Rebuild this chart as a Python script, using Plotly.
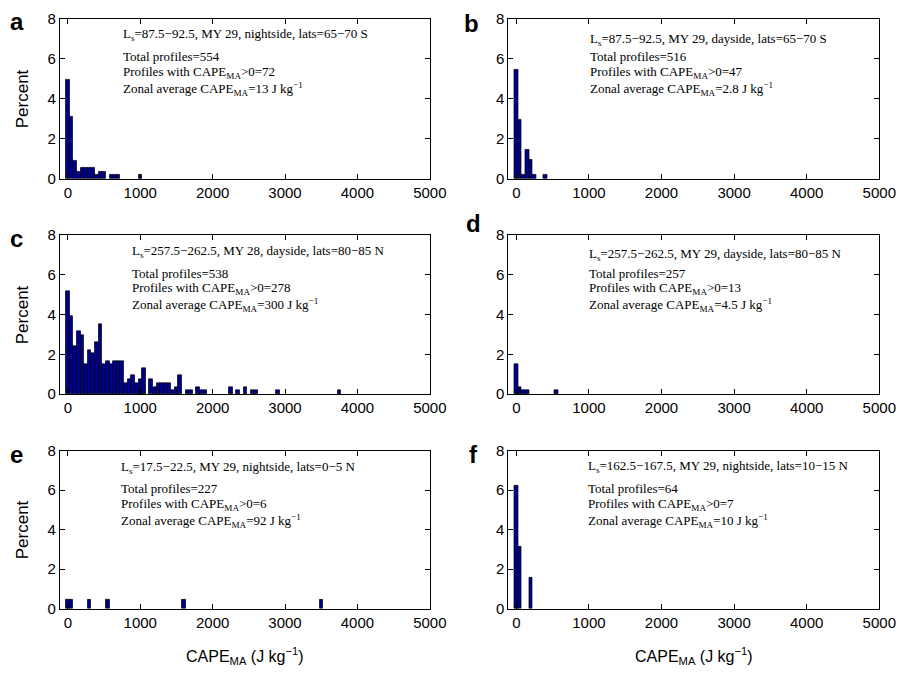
import plotly.graph_objects as go

# Histogram bins are 50 J/kg wide, each bar centred on its bin value
bin_width = 50
x_ticks = [0, 1000, 2000, 3000, 4000, 5000]
y_ticks = [0, 2, 4, 6, 8]
x_range = [-110, 5000]
y_range = [0, 8]

# (a) Ls=87.5-92.5, MY 29, nightside, 65-70 S
a_cape = [0, 50, 100, 150, 200, 250, 300, 350, 400, 450, 500, 600, 650, 700, 1000]
a_pct = [4.96, 3.12, 0.90, 0.36, 0.54, 0.54, 0.54, 0.54, 0.18, 0.36, 0.36, 0.18, 0.18, 0.18, 0.18]

# (b) Ls=87.5-92.5, MY 29, dayside, 65-70 S
b_cape = [0, 50, 100, 150, 200, 250, 400]
b_pct = [5.43, 2.93, 0.19, 1.45, 0.97, 0.19, 0.19]

# (c) Ls=257.5-262.5, MY 28, dayside, 80-85 N
c_cape = [0, 50, 100, 150, 200, 250, 300, 350, 400, 450, 500, 550, 600, 650, 700, 750,
          800, 850, 900, 950, 1000, 1050, 1150, 1200, 1250, 1300, 1350, 1400, 1450, 1500,
          1550, 1650, 1700, 1800, 1850, 1900, 2250, 2350, 2450, 2550, 2600, 2900, 3750]
c_pct = [5.20, 3.90, 2.42, 3.16, 2.97, 1.49, 2.23, 2.04, 2.60, 3.53, 1.49, 1.67, 1.49, 1.67, 1.67, 1.67,
         0.56, 0.74, 0.93, 0.56, 0.74, 1.30, 0.74, 0.37, 0.56, 0.56, 0.56, 0.56, 0.19, 0.37,
         0.93, 0.19, 0.19, 0.37, 0.19, 0.19, 0.37, 0.19, 0.37, 0.19, 0.19, 0.19, 0.19]

# (d) Ls=257.5-262.5, MY 29, dayside, 80-85 N
d_cape = [0, 50, 100, 150, 550]
d_pct = [1.50, 0.37, 0.19, 0.19, 0.19]

# (e) Ls=17.5-22.5, MY 29, nightside, 0-5 N
e_cape = [0, 50, 300, 550, 1600, 3500]
e_pct = [0.44, 0.44, 0.44, 0.44, 0.44, 0.44]

# (f) Ls=162.5-167.5, MY 29, nightside, 10-15 N
f_cape = [0, 50, 200]
f_pct = [6.25, 3.125, 1.5625]

panel_letters = ["a", "b", "c", "d", "e", "f"]
panel_header = [
    "L<sub>s</sub>=87.5\u221292.5, MY 29, nightside, lats=65\u221270 S",
    "L<sub>s</sub>=87.5\u221292.5, MY 29, dayside, lats=65\u221270 S",
    "L<sub>s</sub>=257.5\u2212262.5, MY 28, dayside, lats=80\u221285 N",
    "L<sub>s</sub>=257.5\u2212262.5, MY 29, dayside, lats=80\u221285 N",
    "L<sub>s</sub>=17.5\u221222.5, MY 29, nightside, lats=0\u22125 N",
    "L<sub>s</sub>=162.5\u2212167.5, MY 29, nightside, lats=10\u221215 N",
]
total_profiles = [554, 516, 538, 257, 227, 64]
positive_profiles = [72, 47, 278, 13, 6, 7]
zonal_average = ["13", "2.8", "300", "4.5", "92", "10"]

series = [(a_cape, a_pct), (b_cape, b_pct), (c_cape, c_pct),
          (d_cape, d_pct), (e_cape, e_pct), (f_cape, f_pct)]

W, H = 912, 682
# plot-area boxes in pixels: (left, right) per column, (top, bottom) per row
col_x = [(61, 438), (518, 896)]
row_y = [(10, 174), (232, 395), (453, 615)]
# left pixel of the text block in each panel and offset of its first line
text_left = [123, 599, 132, 598, 121, 597]
header_dy = [16, 21, 17, 20, 17, 16]
# panel letter centres (x, y) in pixels
letter_pos = [(17, 13), (480, 15), (17, 235), (482, 220), (17, 457), (482, 457)]

bar_color = "#00008f"
sans = "Liberation Sans, Arial, sans-serif"
tick_font = dict(family=sans, size=15, color="black")
note_font = dict(family="Liberation Serif, Times New Roman, serif", size=13, color="black")

fig = go.Figure()
annotations = []


def px_x(p):
    return p / W


def px_y(p):
    return 1 - p / H


for i, (cape, pct) in enumerate(series):
    r, c = divmod(i, 2)
    left, right = col_x[c]
    top, bottom = row_y[r]
    n = i + 1
    xa = "x" if n == 1 else f"x{n}"
    ya = "y" if n == 1 else f"y{n}"
    fig.add_trace(go.Bar(
        x=cape, y=pct, width=[bin_width] * len(cape),
        marker=dict(color=bar_color, line=dict(color="black", width=0.7)),
        xaxis=xa, yaxis=ya, showlegend=False, hoverinfo="x+y",
    ))
    axis_common = dict(showline=True, linecolor="black", linewidth=1, mirror="ticks",
                       ticks="inside", ticklen=5, tickcolor="black", showgrid=False,
                       zeroline=False, tickfont=tick_font)
    fig.update_layout(**{
        ("xaxis" if n == 1 else f"xaxis{n}"): dict(
            domain=[px_x(left), px_x(right)], range=x_range, anchor=ya,
            tickvals=x_ticks, ticktext=[str(v) for v in x_ticks], **axis_common),
        ("yaxis" if n == 1 else f"yaxis{n}"): dict(
            domain=[px_y(bottom), px_y(top)], range=y_range, anchor=xa,
            tickvals=y_ticks, ticktext=[str(v) for v in y_ticks], **axis_common),
    })

    # panel letter
    lx, ly = letter_pos[i]
    annotations.append(dict(
        text=f"<b>{panel_letters[i]}</b>", x=px_x(lx), y=px_y(ly),
        xref="paper", yref="paper", xanchor="center", yanchor="middle",
        showarrow=False, font=dict(family=sans, size=24, color="black")))

    tx = px_x(text_left[i])
    lines = [
        (panel_header[i], top + header_dy[i]),
        (f"Total profiles={total_profiles[i]}", top + 39),
        (f"Profiles with CAPE<sub>MA</sub>>0={positive_profiles[i]}", top + 55),
        (f"Zonal average CAPE<sub>MA</sub>={zonal_average[i]} J kg<sup>\u22121</sup>", top + 72),
    ]
    for txt, yy in lines:
        annotations.append(dict(
            text=txt, x=tx, y=px_y(yy), xref="paper", yref="paper",
            xanchor="left", yanchor="middle", showarrow=False, font=note_font))

    # y-axis title on the left column
    if c == 0:
        annotations.append(dict(
            text="Percent", x=px_x(23), y=px_y((top + bottom) / 2), xref="paper", yref="paper",
            xanchor="center", yanchor="middle", textangle=-90, showarrow=False,
            font=dict(family=sans, size=17, color="black")))
    # x-axis title under the bottom row
    if r == 2:
        annotations.append(dict(
            text="CAPE<sub>MA</sub> (J kg<sup>\u22121</sup>)", x=px_x((left + right) / 2),
            y=px_y(664), xref="paper", yref="paper", xanchor="center", yanchor="middle",
            showarrow=False, font=dict(family=sans, size=16, color="black")))

fig.update_layout(
    width=W, height=H, margin=dict(l=0, r=0, t=0, b=0),
    paper_bgcolor="white", plot_bgcolor="white",
    bargap=0, annotations=annotations,
)

fig.write_html("out.html")
